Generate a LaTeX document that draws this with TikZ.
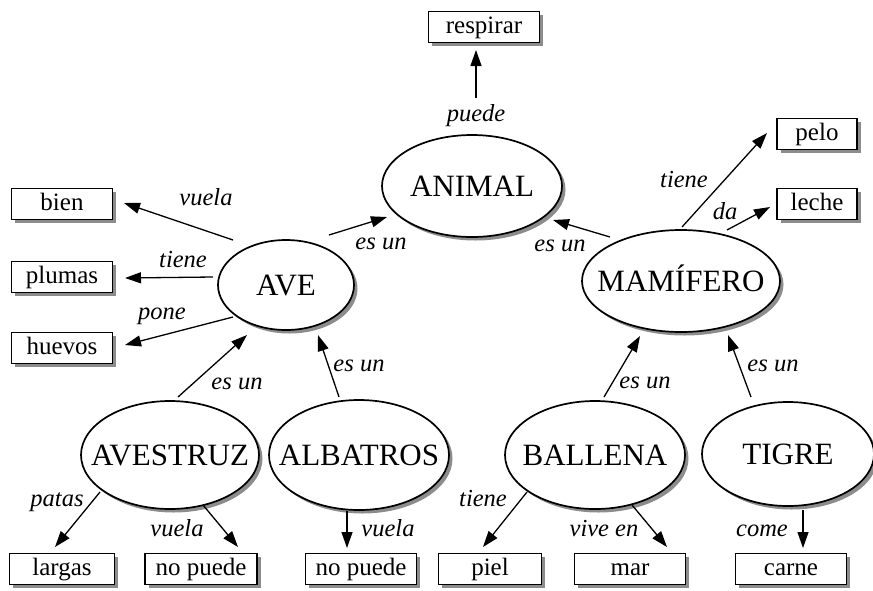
\documentclass[tikz,border=0pt]{standalone}
\usepackage{fontspec}
\setmainfont{Liberation Serif}
\usetikzlibrary{shapes.geometric,arrows.meta,shadows}
\begin{document}
\begin{tikzpicture}[x=1pt,y=-1pt,
  shade/.style={drop shadow={shadow xshift=3.5pt,shadow yshift=-3.5pt,fill=black!45,opacity=1}},
  concept/.style={ellipse, draw, line width=1.7pt, fill=white, inner sep=0pt, shade,
    text height=21pt, text depth=0pt, font=\fontsize{31}{36}\selectfont},
  box/.style={rectangle, draw, line width=1.5pt, fill=white, inner sep=0pt, shade,
    minimum height=31pt, text height=17.5pt, text depth=5pt, font=\fontsize{25}{29}\selectfont},
  lbl/.style={anchor=base, inner sep=0pt, font=\fontsize{24.5}{28}\selectfont\itshape},
  arr/.style={line width=1.3pt, -{Triangle[length=16pt,width=11pt]}}
]
\fill[white] (0,0) rectangle (873,590);
\useasboundingbox (0,0) rectangle (873,590);

% concepts
\node[concept, minimum width=180pt, minimum height=102pt] (animal)   at (472,186) {\makebox[0pt]{ANIMAL}};
\node[concept, minimum width=136pt, minimum height=90pt]  (ave)      at (286,285) {\makebox[0pt]{AVE}};
\node[concept, minimum width=198pt, minimum height=102pt] (mamifero) at (681,281) {\makebox[0pt]{MAMÍFERO}};
\node[concept, minimum width=178pt, minimum height=108pt] (avestruz) at (170,455) {\makebox[0pt]{AVESTRUZ}};
\node[concept, minimum width=180pt, minimum height=110pt] (albatros) at (359,455) {\makebox[0pt]{ALBATROS}};
\node[concept, minimum width=180pt, minimum height=108pt] (ballena)  at (595,455) {\makebox[0pt]{BALLENA}};
\node[concept, minimum width=172pt, minimum height=104pt] (tigre)    at (788,454) {\makebox[0pt]{TIGRE}};

% boxes
\node[box, minimum width=111pt] (respirar) at (484,27)  {respirar};
\node[box, minimum width=101pt] (bien)     at (62,204)  {bien};
\node[box, minimum width=101pt] (plumas)   at (62,277)  {plumas};
\node[box, minimum width=101pt] (huevos)   at (62,348)  {huevos};
\node[box, minimum width=80pt]  (pelo)     at (817,134) {pelo};
\node[box, minimum width=80pt]  (leche)    at (817,204) {leche};
\node[box, minimum width=105pt] (largas)   at (62,569)  {largas};
\node[box, minimum width=112pt] (nopuedeA) at (201,569) {no puede};
\node[box, minimum width=111pt] (nopuedeB) at (361,569) {no puede};
\node[box, minimum width=103pt] (piel)     at (490,569) {piel};
\node[box, minimum width=111pt] (mar)      at (630,569) {mar};
\node[box, minimum width=111pt] (carne)    at (791,569) {carne};

% connectors
\draw[arr] ([shift={(4,-88)}]animal.center)   -- ([shift={(-8,23)}]respirar.center);
\draw[arr] ([shift={(-53,-45)}]ave.center)    -- ([shift={(62,-1)}]bien.center);
\draw[arr] ([shift={(-73,-8)}]ave.center)     -- ([shift={(63,1)}]plumas.center);
\draw[arr] ([shift={(-53,32)}]ave.center)     -- ([shift={(63,-3)}]huevos.center);
\draw[arr] ([shift={(43,-50)}]ave.center)     -- ([shift={(-85,31)}]animal.center);
\draw[arr] ([shift={(-71,-44)}]mamifero.center) -- ([shift={(81,34)}]animal.center);
\draw[arr] ([shift={(1,-54)}]mamifero.center) -- ([shift={(-50,-1)}]pelo.center);
\draw[arr] ([shift={(46,-51)}]mamifero.center) -- ([shift={(-47,3)}]leche.center);
\draw[arr] ([shift={(8,-58)}]avestruz.center) -- ([shift={(-39,50)}]ave.center);
\draw[arr] ([shift={(-20,-58)}]albatros.center) -- ([shift={(32,50)}]ave.center);
\draw[arr] ([shift={(9,-58)}]ballena.center)  -- ([shift={(-41,55)}]mamifero.center);
\draw[arr] ([shift={(-37,-57)}]tigre.center)  -- ([shift={(47,54)}]mamifero.center);
\draw[arr] ([shift={(-70,37)}]avestruz.center) -- ([shift={(-7,-22)}]largas.center);
\draw[arr] ([shift={(33,50)}]avestruz.center) -- ([shift={(37,-22)}]nopuedeA.center);
\draw[arr] ([shift={(-12,56)}]albatros.center) -- ([shift={(-14,-21)}]nopuedeB.center);
\draw[arr] ([shift={(-68,37)}]ballena.center) -- ([shift={(-7,-22)}]piel.center);
\draw[arr] ([shift={(37,50)}]ballena.center)  -- ([shift={(37,-22)}]mar.center);
\draw[arr] ([shift={(15,56)}]tigre.center)    -- ([shift={(12,-21)}]carne.center);

% labels
\node[lbl] (l1)  at (476,121) {puede};
\node[lbl] (l2)  at (206,205) {vuela};
\node[lbl] (l3)  at (183,267) {tiene};
\node[lbl] (l4)  at (162,319) {pone};
\node[lbl] (l5)  at (381,249) {es un};
\node[lbl] (l6)  at (560,251) {es un};
\node[lbl] (l7)  at (684,187) {tiene};
\node[lbl] (l8)  at (725,219) {da};
\node[lbl] (l9)  at (237,389) {es un};
\node[lbl] (l10) at (359,371) {es un};
\node[lbl] (l11) at (645,388) {es un};
\node[lbl] (l12) at (773,371) {es un};
\node[lbl] (l13) at (57,506)  {patas};
\node[lbl] (l14) at (177,536) {vuela};
\node[lbl] (l15) at (388,536) {vuela};
\node[lbl] (l16) at (483,506) {tiene};
\node[lbl] (l17) at (604,536) {vive en};
\node[lbl] (l18) at (762,536) {come};
\end{tikzpicture}
\end{document}
